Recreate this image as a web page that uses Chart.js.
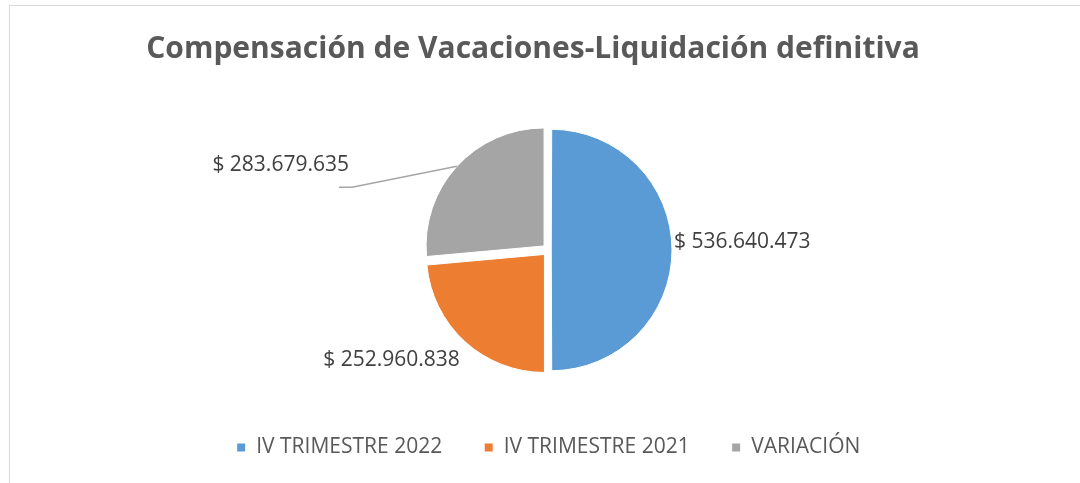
<!DOCTYPE html>
<html>
<head>
<meta charset="utf-8">
<title>Compensación de Vacaciones</title>
<script src="https://cdn.jsdelivr.net/npm/chart.js@4.4.0/dist/chart.umd.min.js"></script>
<style>
  html, body { margin: 0; padding: 0; background: #fff; }
  #wrap { position: relative; width: 1080px; height: 483px; overflow: hidden; }
  #frame { position: absolute; left: 9px; top: 5px; width: 1200px; height: 600px;
           border-top: 1px solid #d9d9d9; border-left: 1px solid #d9d9d9; }
  canvas { position: absolute; left: 0; top: 0; }
</style>
</head>
<body>
<div id="wrap">
  <div id="frame"></div>
  <canvas id="pieChart" width="1080" height="483"></canvas>
</div>
<script>
// DATA
const categories = ["IV TRIMESTRE 2022", "IV TRIMESTRE 2021", "VARIACIÓN"];
const values = [536640473, 252960838, 283679635];
const colors = ["#5B9BD5", "#ED7D31", "#A5A5A5"];
const chartTitle = "Compensación de Vacaciones-Liquidación definitiva";

function money(v) {
  return "$ " + v.toString().replace(/\B(?=(\d{3})+(?!\d))/g, ".");
}

// TITLE (drawn by hand: in the original it is not centred over the pie)
const topTitle = {
  id: "topTitle",
  afterDraw(chart, args, opts) {
    const ctx = chart.ctx;
    ctx.save();
    ctx.font = opts.font;
    ctx.fillStyle = opts.color;
    ctx.textAlign = "center";
    ctx.textBaseline = "middle";
    ctx.fillText(chartTitle, opts.x, opts.y);
    ctx.restore();
  }
};

// LABELS NEXT TO EACH SLICE
const sliceLabels = {
  id: "sliceLabels",
  afterDatasetsDraw(chart, args, opts) {
    const ctx = chart.ctx;
    const meta = chart.getDatasetMeta(0);
    ctx.save();
    ctx.font = opts.font;
    ctx.fillStyle = opts.color;
    ctx.textBaseline = "middle";
    meta.data.forEach((arc, i) => {
      const p = arc.getProps(["x", "y", "startAngle", "endAngle", "outerRadius", "circumference"], true);
      const mid = (p.startAngle + p.endAngle) / 2;
      // same shift that ArcElement applies for its offset
      const o = (arc.options.offset || 0) / 4;
      const shift = o + o * (1 - Math.sin(Math.min(Math.PI, p.circumference)));
      const ex = p.x + Math.cos(mid) * (p.outerRadius + shift);
      const ey = p.y + Math.sin(mid) * (p.outerRadius + shift);
      const pos = opts.place[i];
      if (pos.leader) {
        ctx.strokeStyle = opts.lineColor;
        ctx.lineWidth = 1.5;
        ctx.beginPath();
        ctx.moveTo(ex, ey);
        pos.leader.forEach(q => ctx.lineTo(ex + q[0], ey + q[1]));
        ctx.stroke();
      }
      ctx.textAlign = pos.align;
      ctx.fillText(money(values[i]), ex + pos.dx, ey + pos.dy);
    });
    ctx.restore();
  }
};

new Chart(document.getElementById("pieChart"), {
  type: "pie",
  data: {
    labels: categories,
    datasets: [{
      data: values,
      backgroundColor: colors,
      borderColor: "#ffffff",
      borderWidth: 1,
      offset: [11, 24, 24],
      radius: 118
    }]
  },
  options: {
    responsive: false,
    animation: false,
    layout: { padding: { left: 17, right: 0, top: 105, bottom: 15 } },
    plugins: {
      title: { display: false },
      topTitle: {
        font: "bold 30px 'Open Sans'",
        color: "#595959",
        x: 533,
        y: 49
      },
      legend: {
        position: "bottom",
        labels: {
          boxWidth: 9,
          boxHeight: 9,
          padding: 42,
          color: "#595959",
          font: { family: "Open Sans", size: 21 }
        }
      },
      tooltip: { enabled: false },
      sliceLabels: {
        font: "21px 'Open Sans'",
        color: "#404040",
        lineColor: "#a6a6a6",
        place: [
          { align: "left", dx: 2, dy: -8 },
          { align: "right", dx: -5, dy: 18 },
          { align: "right", dx: -108, dy: -1, leader: [[-105, 21], [-118, 21]] }
        ]
      }
    }
  },
  plugins: [topTitle, sliceLabels]
});
</script>
</body>
</html>
